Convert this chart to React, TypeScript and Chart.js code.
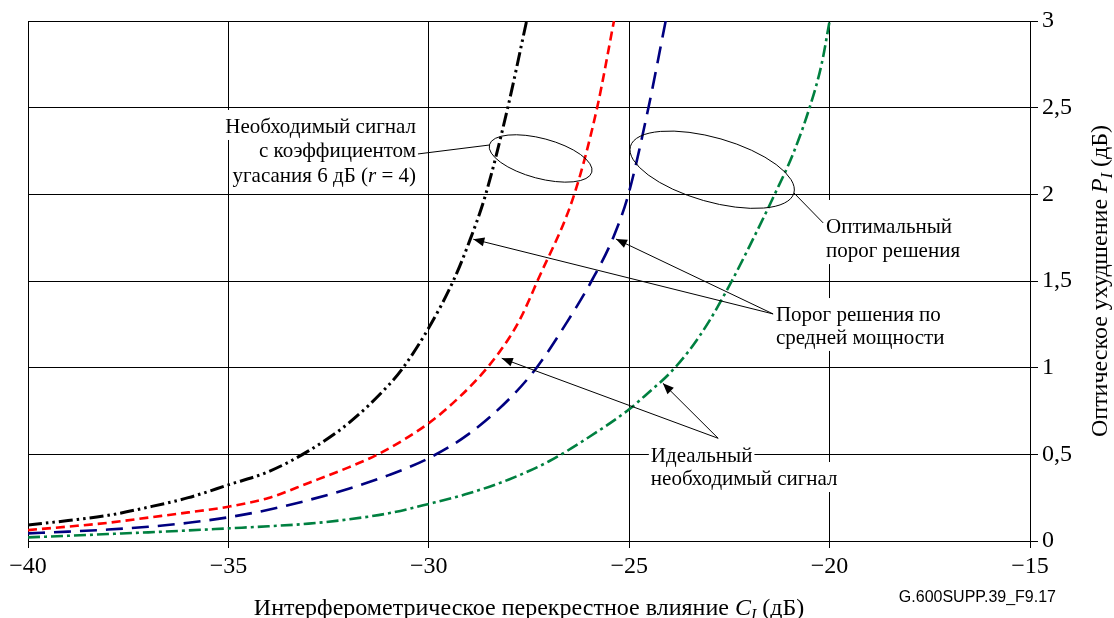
import React, { useEffect, useRef } from "react";
import { Chart, registerables } from "chart.js";

Chart.register(...registerables);

// ---------- data ----------
const X_MIN = -40;
const X_MAX = -15;
const Y_MIN = 0;
const Y_MAX = 3;

// r = 4 (extinction 6 dB), dash-dot-dot black
const blackX = [-40, -39, -38, -37, -36, -35, -34, -33, -32, -31, -30.64, -30, -29.39, -29, -28.58, -28.03, -27.56];
const blackY = [0.092, 0.118, 0.148, 0.195, 0.25, 0.324, 0.4, 0.52, 0.68, 0.9, 1.0, 1.23, 1.5, 1.72, 2.0, 2.5, 3.0];

// red short dash
const redX = [-40, -39, -38, -37, -36, -35, -34, -33, -32, -31.27, -30, -29.22, -28.54, -28, -27.7, -27.29, -26.37, -25.8, -25.38];
const redY = [0.063, 0.083, 0.105, 0.135, 0.165, 0.198, 0.248, 0.335, 0.425, 0.5, 0.68, 0.834, 1.0, 1.17, 1.29, 1.5, 2.0, 2.5, 3.0];

// blue long dash
const blueX = [-40, -39, -38, -37, -36, -35, -34, -33, -32, -31, -30, -29, -28, -27.31, -26.56, -25.94, -25.4, -25.02, -24.52, -24.09];
const blueY = [0.044, 0.054, 0.066, 0.082, 0.105, 0.137, 0.18, 0.236, 0.302, 0.38, 0.478, 0.618, 0.818, 1.0, 1.26, 1.5, 1.75, 2.0, 2.5, 3.0];

// green dash-dot (ideal signal, optimal threshold)
const greenX = [-40, -39, -38, -37, -36, -35, -34, -33, -32, -31, -30, -29, -28, -27, -26, -25, -24.5, -24, -23.5, -23, -22.44, -22, -21.37, -20.9, -20.5, -20.2, -20.0];
const greenY = [0.021, 0.03, 0.04, 0.05, 0.061, 0.073, 0.085, 0.1, 0.125, 0.16, 0.214, 0.275, 0.355, 0.46, 0.6, 0.76, 0.86, 0.965, 1.1, 1.27, 1.5, 1.7, 2.0, 2.24, 2.5, 2.75, 3.0];

const X_TITLE = "Интерферометрическое перекрестное влияние ";
const Y_TITLE = "Оптическое ухудшение ";
const SOURCE = "G.600SUPP.39_F9.17";

// ---------- styles ----------
const SERIF = "'Liberation Serif', 'Times New Roman', serif";
const SANS = "'Liberation Sans', Arial, sans-serif";
const TICK_FONT = 24;
const NOTE_FONT = 21;
const TITLE_FONT = 24;

type Seg = { t: string; i?: boolean; sub?: boolean };

const notes: { x: number; ys: number[]; align: "left" | "right"; padTop: number; lines: Seg[][] }[] = [
  {
    x: -30.32,
    ys: [2.354, 2.215, 2.071],
    align: "right",
    padTop: 23,
    lines: [
      [{ t: "Необходимый сигнал" }],
      [{ t: "с коэффициентом" }],
      [{ t: "угасания 6 дБ (" }, { t: "r", i: true }, { t: " = 4)" }],
    ],
  },
  {
    x: -20.09,
    ys: [1.777, 1.638],
    align: "left",
    padTop: 33,
    lines: [[{ t: "Оптимальный" }], [{ t: "порог решения" }]],
  },
  {
    x: -21.34,
    ys: [1.269, 1.137],
    align: "left",
    padTop: 23,
    lines: [[{ t: "Порог решения по" }], [{ t: "средней мощности" }]],
  },
  {
    x: -24.46,
    ys: [0.4575, 0.323],
    align: "left",
    padTop: 23,
    lines: [[{ t: "Идеальный" }], [{ t: "необходимый сигнал" }]],
  },
];

const leaders: { from: [number, number]; to: [number, number]; arrow: boolean }[] = [
  { from: [-30.27, 2.233], to: [-28.47, 2.285], arrow: false },
  { from: [-20.89, 2.008], to: [-20.16, 1.835], arrow: false },
  { from: [-21.41, 1.31], to: [-28.89, 1.741], arrow: true },
  { from: [-21.41, 1.31], to: [-25.33, 1.742], arrow: true },
  { from: [-22.78, 0.5925], to: [-28.18, 1.054], arrow: true },
  { from: [-22.78, 0.5925], to: [-24.16, 0.91], arrow: true },
];

const ellipses = [
  { x: -27.21, y: 2.207, rx: 53, ry: 20, rot: 15 },
  { x: -22.93, y: 2.142, rx: 85, ry: 32, rot: 16 },
];

function pts(xs: number[], ys: number[]) {
  return xs.map((x, i) => ({ x, y: ys[i] }));
}

function fontOf(s: Seg, size: number, family: string) {
  const sz = s.sub ? Math.round(size * 0.65) : size;
  return `${s.i ? "italic " : ""}${sz}px ${family}`;
}

function richWidth(ctx: CanvasRenderingContext2D, segs: Seg[], size: number) {
  let w = 0;
  for (const s of segs) {
    ctx.font = fontOf(s, size, SERIF);
    w += ctx.measureText(s.t).width;
  }
  return w;
}

function drawRich(ctx: CanvasRenderingContext2D, segs: Seg[], x: number, y: number, size: number, align: string) {
  const w = richWidth(ctx, segs, size);
  let cx = align === "left" ? x : align === "right" ? x - w : x - w / 2;
  ctx.textAlign = "left";
  ctx.textBaseline = "alphabetic";
  for (const s of segs) {
    ctx.font = fontOf(s, size, SERIF);
    ctx.fillText(s.t, cx, y + (s.sub ? size * 0.22 : 0));
    cx += ctx.measureText(s.t).width;
  }
}

const annotationPlugin = {
  id: "annotations",
  afterDraw(chart: any) {
    const ctx: CanvasRenderingContext2D = chart.ctx;
    const xs = chart.scales.x;
    const ys = chart.scales.y;
    const area = chart.chartArea;
    const px = (v: number) => xs.getPixelForValue(v);
    const py = (v: number) => ys.getPixelForValue(v);
    ctx.save();

    // notes with white backgrounds
    for (const n of notes) {
      n.lines.forEach((segs, idx) => {
        const w = richWidth(ctx, segs, NOTE_FONT);
        const bx = px(n.x);
        const by = py(n.ys[idx]);
        const left = n.align === "left" ? bx : bx - w;
        const top = by - (idx === 0 ? n.padTop : 23);
        ctx.fillStyle = "#fff";
        ctx.fillRect(left - 2, top, w + 4, by + 7 - top);
      });
    }
    ctx.fillStyle = "#000";
    for (const n of notes) {
      n.lines.forEach((segs, idx) => {
        drawRich(ctx, segs, px(n.x), py(n.ys[idx]), NOTE_FONT, n.align);
      });
    }

    // leader lines and arrows
    ctx.strokeStyle = "#000";
    ctx.lineWidth = 1;
    for (const l of leaders) {
      const x1 = px(l.from[0]);
      const y1 = py(l.from[1]);
      const x2 = px(l.to[0]);
      const y2 = py(l.to[1]);
      ctx.beginPath();
      ctx.moveTo(x1, y1);
      ctx.lineTo(x2, y2);
      ctx.stroke();
      if (l.arrow) {
        const ang = Math.atan2(y2 - y1, x2 - x1);
        const len = 11;
        const hw = 4.5;
        ctx.beginPath();
        ctx.moveTo(x2, y2);
        ctx.lineTo(x2 - len * Math.cos(ang) + hw * Math.sin(ang), y2 - len * Math.sin(ang) - hw * Math.cos(ang));
        ctx.lineTo(x2 - len * Math.cos(ang) - hw * Math.sin(ang), y2 - len * Math.sin(ang) + hw * Math.cos(ang));
        ctx.closePath();
        ctx.fill();
      }
    }

    // ellipses
    for (const e of ellipses) {
      ctx.beginPath();
      ctx.ellipse(px(e.x), py(e.y), e.rx, e.ry, (e.rot * Math.PI) / 180, 0, Math.PI * 2);
      ctx.stroke();
    }

    // x-axis title
    const xMid = (area.left + area.right) / 2;
    drawRich(
      ctx,
      [{ t: X_TITLE }, { t: "C", i: true }, { t: "I", i: true, sub: true }, { t: " (дБ)" }],
      xMid,
      615,
      TITLE_FONT,
      "center"
    );

    // y-axis title (rotated)
    ctx.save();
    ctx.translate(1107, (area.top + area.bottom) / 2);
    ctx.rotate(-Math.PI / 2);
    drawRich(
      ctx,
      [{ t: Y_TITLE }, { t: "P", i: true }, { t: "I", i: true, sub: true }, { t: " (дБ)" }],
      0,
      0,
      TITLE_FONT,
      "center"
    );
    ctx.restore();

    // source label
    ctx.font = `16px ${SANS}`;
    ctx.textAlign = "right";
    ctx.textBaseline = "alphabetic";
    ctx.fillText(SOURCE, 1056, 602);

    ctx.restore();
  },
};

export default function App() {
  const ref = useRef<HTMLCanvasElement | null>(null);

  useEffect(() => {
    document.body.style.margin = "0";
    const canvas = ref.current;
    if (!canvas) return;
    const common = { pointRadius: 0, fill: false, showLine: true, cubicInterpolationMode: "monotone" as const };
    const chart = new Chart(canvas, {
      type: "scatter",
      data: {
        datasets: [
          { ...common, label: "r=4", data: pts(blackX, blackY), borderColor: "#000000", borderWidth: 3, borderDash: [14, 4, 2.5, 4, 2.5, 4] },
          { ...common, label: "red", data: pts(redX, redY), borderColor: "#ff0000", borderWidth: 2.6, borderDash: [9, 5] },
          { ...common, label: "blue", data: pts(blueX, blueY), borderColor: "#000080", borderWidth: 2.6, borderDash: [17, 9] },
          { ...common, label: "green", data: pts(greenX, greenY), borderColor: "#008040", borderWidth: 2.6, borderDash: [12, 4, 3, 4] },
        ],
      },
      options: {
        animation: false,
        responsive: false,
        maintainAspectRatio: false,
        devicePixelRatio: 1,
        layout: { padding: { left: 28, top: 21, right: 0, bottom: 0 } },
        plugins: { legend: { display: false }, tooltip: { enabled: false }, title: { display: false } },
        scales: {
          x: {
            type: "linear",
            position: "bottom",
            min: X_MIN,
            max: X_MAX,
            afterFit: (s: any) => {
              s.height = 77;
            },
            ticks: {
              stepSize: 5,
              color: "#000",
              padding: 4,
              maxRotation: 0,
              font: { family: SERIF, size: TICK_FONT },
              callback: (v: any) => String(v).replace("-", "\u2212"),
            },
            grid: { color: "#000", lineWidth: 1, tickLength: 7, drawTicks: true },
            border: { color: "#000", width: 1 },
          },
          y: {
            type: "linear",
            position: "right",
            min: Y_MIN,
            max: Y_MAX,
            afterFit: (s: any) => {
              s.width = 84;
            },
            ticks: {
              stepSize: 0.5,
              color: "#000",
              padding: 4,
              font: { family: SERIF, size: TICK_FONT },
              callback: (v: any) => String(v).replace(".", ","),
            },
            grid: { color: "#000", lineWidth: 1, tickLength: 8, drawTicks: true },
            border: { color: "#000", width: 1 },
          },
        },
      },
      plugins: [annotationPlugin],
    });
    let alive = true;
    const fonts: any = (document as any).fonts;
    if (fonts && fonts.load) {
      Promise.all([
        fonts.load(`24px "Liberation Serif"`),
        fonts.load(`italic 21px "Liberation Serif"`),
        fonts.load(`16px "Liberation Sans"`),
      ])
        .then(() => {
          if (alive) chart.update("none");
        })
        .catch(() => {});
    }
    return () => {
      alive = false;
      chart.destroy();
    };
  }, []);

  return (
    <div style={{ position: "absolute", left: 0, top: 0, width: 1114, height: 618, background: "#fff" }}>
      <canvas ref={ref} width={1114} height={618} />
    </div>
  );
}
